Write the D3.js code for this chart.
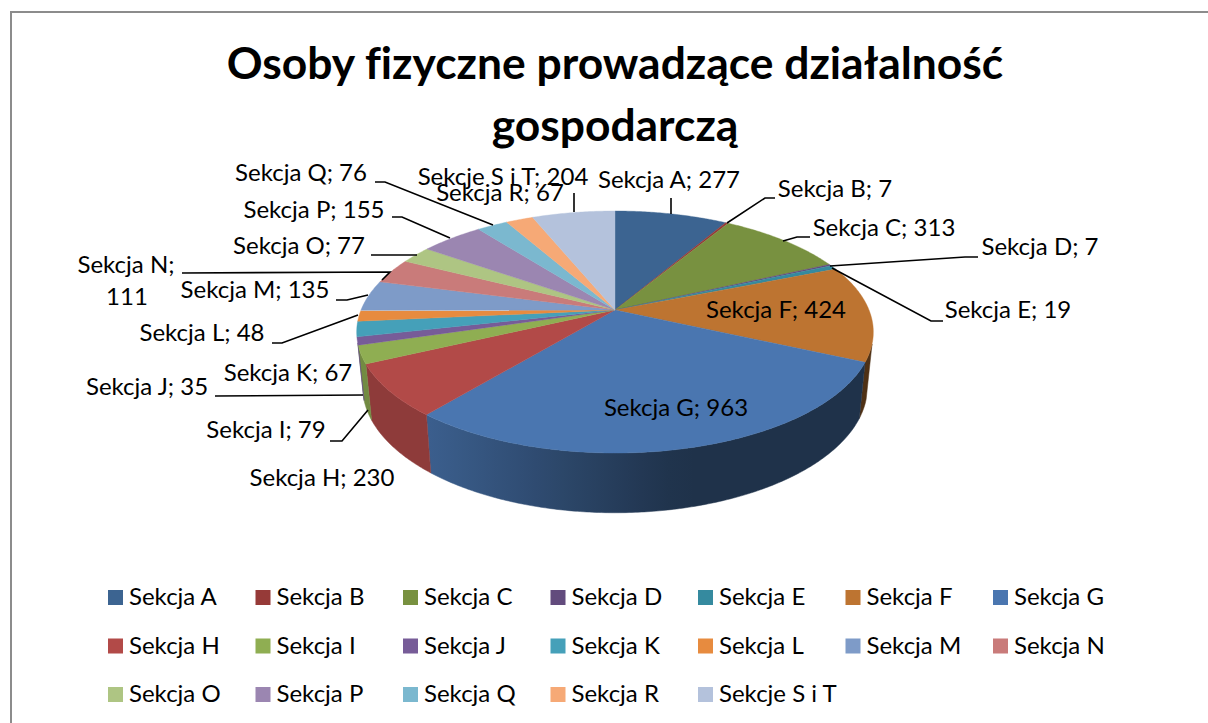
<!DOCTYPE html>
<html><head><meta charset="utf-8">
<script src="https://cdn.jsdelivr.net/npm/d3@7/dist/d3.min.js"></script>
<style>html,body{margin:0;padding:0;background:#fff;overflow:hidden}svg{display:block}text{font-family:Lato,"Open Sans",sans-serif;fill:#000;font-variant-ligatures:none}</style>
</head><body><svg id="c" width="1208" height="723"></svg>
<script>
const titleLines = ["Osoby fizyczne prowadzące działalność", "gospodarczą"];
const categories = ["Sekcja A","Sekcja B","Sekcja C","Sekcja D","Sekcja E","Sekcja F","Sekcja G","Sekcja H","Sekcja I","Sekcja J","Sekcja K","Sekcja L","Sekcja M","Sekcja N","Sekcja O","Sekcja P","Sekcja Q","Sekcja R","Sekcje S i T"];
const values = [277,7,313,7,19,424,963,230,79,35,67,48,135,111,77,155,76,67,204];
const colors = ["#3c6491","#963a38","#789140","#624b7d","#358a9f","#bd7431","#4a76b0","#b24a48","#8fae52","#775c98","#45a0b9","#e78b3f","#7e9bc8","#c97b7a","#aec583","#9b86b1","#7bb8cf","#f6a976","#b4c2dc"];

// label placement: [centre x, baseline y]
const labelPos = [[669,188],[835,197],[884,236],[1040,255],[1008,318],[776,318],[676,416],[322,486],[266,438],[147,395],[288,381],[202,341],[255,298],[126,273],[299,254],[314,218],[301,181],[500,201],[503,185]];
// leader polylines, by category index
const leaders = {0:[[671,198],[671,214]],1:[[775,198],[765,198],[727,223]],2:[[810,237],[797,237],[783,241]],3:[[978,257],[965,257],[830,266]],4:[[943,321],[931,321],[832,268]],
 9:[[215,396],[363,395]],8:[[330,441],[342,441],[368,410]],11:[[272,343],[282,343],[358,315]],12:[[336,300],[347,300],[368,295]],13:[[182,273],[390,272],[382,280]],14:[[371,255],[417,255]],15:[[392,217],[402,217],[450,238]],16:[[375,182],[385,182],[493,225]],18:[[574,193],[574,212]]};

const svg = d3.select("#c");
const FS = 24;

// frame
svg.append("path").attr("d", d3.line()([[11,723],[11,12],[1208,12]])).attr("fill","none").attr("stroke","#8c8c8c").attr("stroke-width",2);

// title
svg.selectAll("text.t").data(titleLines).join("text").attr("class","t")
  .attr("x",615).attr("y",(d,i)=>79+i*62).attr("text-anchor","middle")
  .attr("font-size",44.4).attr("font-weight",700).text(d=>d);

// perspective projection of the pie disc
const cx=615, cy=310, Rx=254, Ry=117, k=0.182;
const topPt = a => { const s=Math.sin(a), c=Math.cos(a), p=1/(1+k*c); return [cx+Rx*s*p, cy-Ry*c*p]; };
const botPt = a => { const s=Math.sin(a), c=Math.cos(a), p=1/(1+k*c); return [cx+Rx*s*p*0.977, cy+54-Ry*c*p*1.04]; };
const rad = d => d*Math.PI/180;
const wallFrom = rad(106), wallTo = rad(254.5);
const sampled = (a,b) => { const n=Math.max(2,Math.ceil(Math.abs(b-a)/0.01)); return d3.range(n+1).map(i=>a+(b-a)*i/n); };

const arcs = d3.pie().sort(null).value(d=>d)(values);
const line = d3.line();
const defs = svg.append("defs");
const shade = d3.scaleLinear().domain([430,680]).range([0.8,0.42]).clamp(true);

// side walls
const wallG = svg.append("g");
arcs.forEach((a,i)=>{
  const s=Math.max(a.startAngle,wallFrom), e=Math.min(a.endAngle,wallTo);
  if(e<=s) return;
  const base=d3.rgb(colors[i]), id="w"+i;
  const g=defs.append("linearGradient").attr("id",id).attr("gradientUnits","userSpaceOnUse").attr("x1",350).attr("x2",880).attr("y1",0).attr("y2",0);
  d3.range(0,1.0001,0.05).forEach(t=>{
    const x=350+530*t, f=shade(x);
    g.append("stop").attr("offset",t).attr("stop-color",d3.rgb(base.r*f,base.g*f,base.b*f).formatHex());
  });
  const as=sampled(s,e);
  const pts=as.map(topPt).concat(as.slice().reverse().map(botPt));
  wallG.append("path").attr("d",line(pts)+"Z").attr("fill",`url(#${id})`).attr("stroke",`url(#${id})`).attr("stroke-width",0.5);
});

// top face
svg.append("g").selectAll("path").data(arcs).join("path")
  .attr("d",a=>line([[cx,cy]].concat(sampled(a.startAngle,a.endAngle).map(topPt)))+"Z")
  .attr("fill",(a,i)=>colors[i]).attr("stroke",(a,i)=>colors[i]).attr("stroke-width",0.4);

// leaders
svg.append("g").selectAll("path").data(Object.values(leaders)).join("path")
  .attr("d",d=>line(d)).attr("fill","none").attr("stroke","#000").attr("stroke-width",1.6);

// data labels
const lab = svg.append("g").attr("font-size",FS).attr("text-anchor","middle");
categories.forEach((c,i)=>{
  const txt=`${c}; ${values[i]}`;
  if(i===13){
    lab.append("text").attr("x",labelPos[i][0]).attr("y",labelPos[i][1]).text(c+";");
    lab.append("text").attr("x",labelPos[i][0]+1).attr("y",labelPos[i][1]+32).text(values[i]);
  } else lab.append("text").attr("x",labelPos[i][0]).attr("y",labelPos[i][1]).text(txt);
});

// legend
const nCols=7;
const colX=d3.scaleLinear().domain([0,6]).range([108,993]);
const rowY=d3.scaleLinear().domain([0,2]).range([590,687]);
const leg=svg.append("g").selectAll("g").data(categories).join("g")
  .attr("transform",(d,i)=>`translate(${colX(i%nCols)},${rowY(Math.floor(i/nCols))})`);
leg.append("rect").attr("width",15).attr("height",15).attr("fill",(d,i)=>colors[i]);
leg.append("text").attr("x",21).attr("y",15).attr("font-size",FS).text(d=>d);
</script></body></html>
